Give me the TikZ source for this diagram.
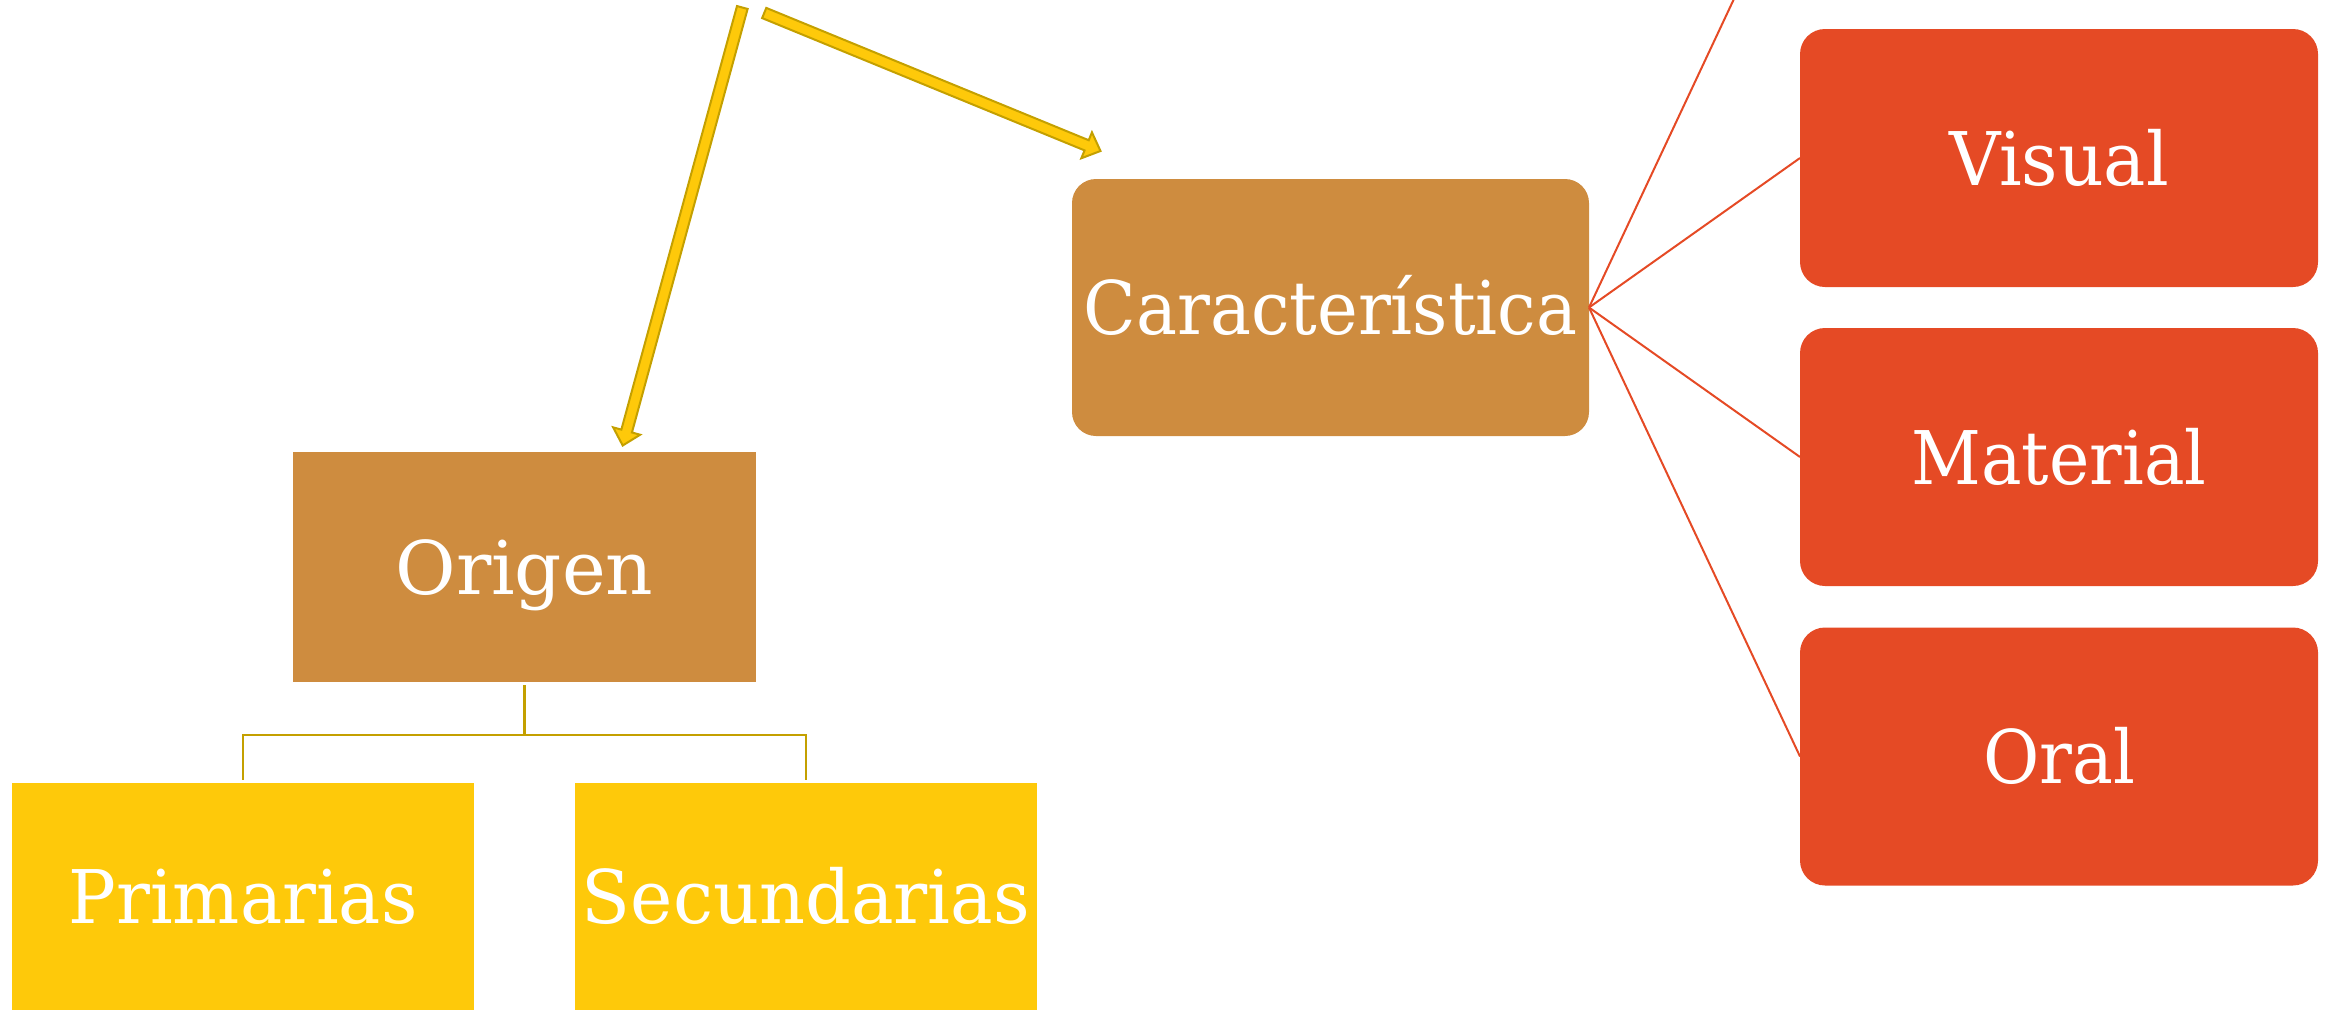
\documentclass[tikz,border=0pt]{standalone}
\usepackage{fontspec}
\setmainfont{DejaVu Serif}
\usetikzlibrary{calc}
\definecolor{cbrown}{HTML}{CE8C3F}
\definecolor{cyellow}{HTML}{FEC90A}
\definecolor{cred}{HTML}{E54A25}
\definecolor{cgold}{HTML}{C4A000}
\newcommand{\fitw}[2]{\resizebox{#1}{\height}{#2}}
\newcommand{\blockarr}[2]{%
  \coordinate (#1h) at ($(#2)!15pt!(#1)$);
  \filldraw[barrow] ($(#1)!5.5pt!90:(#2)$) -- ($(#1h)!5.5pt!90:(#2)$) -- ($(#1h)!14pt!90:(#2)$) -- (#2)
    -- ($(#1h)!14pt!-90:(#2)$) -- ($(#1h)!5.5pt!-90:(#2)$) -- ($(#1)!5.5pt!-90:(#2)$) -- cycle;}
\tikzset{
  box/.style={inner sep=0pt, outer sep=0pt, text=white, text height=54pt, text depth=0pt,
    font=\fontsize{74}{80}\selectfont},
  brownbox/.style={box, fill=cbrown},
  yellowbox/.style={box, fill=cyellow, minimum width=462pt, minimum height=227pt},
  redbox/.style={box, fill=cred, rounded corners=25pt, minimum width=518pt, minimum height=258pt},
  redline/.style={draw=cred, line width=2pt},
  tree/.style={draw=cgold, line width=2.2pt},
  barrow/.style={fill=cyellow, draw=cgold, line width=2pt, line join=miter},
}
\begin{document}
\begin{tikzpicture}[x=1pt, y=-1pt]
\clip (0,0) rectangle (2326,1010);
% nodes
\node[brownbox, minimum width=463pt, minimum height=230pt] (orig) at (524.5,567) {\fitw{258pt}{Origen}};
\node[brownbox, rounded corners=24pt, minimum width=517pt, minimum height=257pt] (char) at (1330.5,307.5) {\fitw{494pt}{Característica}};
\node[yellowbox] (prim) at (243,896.5) {\fitw{349pt}{Primarias}};
\node[yellowbox] (sec) at (806,896.5) {\fitw{448pt}{Secundarias}};
\node[redbox] (vis) at (2059,158) {\fitw{220pt}{Visual}};
\node[redbox] (mat) at (2059,457) {\fitw{295pt}{Material}};
\node[redbox] (oral) at (2059,756.5) {\fitw{152pt}{Oral}};
% tree connector
\draw[tree] ([yshift=-3pt]orig.south) -- ++(0,50) coordinate (j) -| ([yshift=3pt]prim.north);
\draw[tree] (j) -| ([yshift=3pt]sec.north);
% red connectors
\coordinate (up) at (1740.5,-15);
\draw[redline] (char.east) -- (up);
\draw[redline] (char.east) -- (vis.west);
\draw[redline] (char.east) -- (mat.west);
\draw[redline] (char.east) -- (oral.west);
% block arrows
\coordinate (aos) at (742.3,7.5);
\coordinate (aot) at (622.7,445.5);
\coordinate (acs) at (764.2,13);
\coordinate (act) at (1100.5,151);
\blockarr{aos}{aot}
\blockarr{acs}{act}
\end{tikzpicture}
\end{document}
